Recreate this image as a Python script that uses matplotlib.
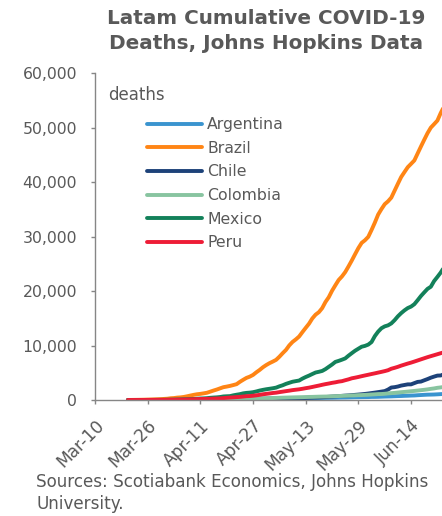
import pandas as pd
import matplotlib
matplotlib.use("Agg")
import matplotlib.pyplot as plt
import matplotlib.ticker as mticker

plt.rcParams["font.family"] = ["DejaVu Sans"]

# cumulative deaths, daily from 2020-03-20 (Johns Hopkins)
argentina = [3, 4, 4, 4, 6, 8, 9, 13, 18, 19, 23, 27,
             28, 36, 39, 43, 44, 48, 56, 63, 72, 82, 83, 90, 97, 102, 109,
             111, 115, 123, 129, 132, 136, 147, 152, 165, 176, 185, 192, 197, 207, 214,
             218, 225, 237, 246, 260, 264, 273, 282, 293, 300, 305, 315, 319, 329, 353,
             356, 363, 373, 382, 393, 403, 416, 433, 445, 452, 467, 484, 500, 508, 520, 528,
             537, 564, 569, 583, 608, 632, 648, 664, 693, 717, 735, 765, 785, 815,
             833, 878, 913, 948, 979, 992, 1011, 1043, 1078, 1116]
brazil = [11, 15, 25, 34, 46, 59, 77, 92, 111, 136, 159, 201,
          240, 324, 359, 445, 486, 564, 686, 819, 950, 1057, 1124, 1223, 1328, 1532, 1736,
          1924, 2141, 2354, 2462, 2587, 2741, 2906, 3331, 3704, 4057, 4286, 4603, 5083, 5513, 6006,
          6412, 6761, 7051, 7367, 7938, 8588, 9190, 10017, 10656, 11123, 11653, 12461, 13240, 13999,
          14962, 15662, 16118, 16853, 17983, 18859, 20047, 21048, 22013, 22666, 23473, 24512, 25598,
          26754, 27878, 28834, 29314,
          29937, 31199, 32548, 34021, 35026, 35930, 36455, 37134, 38406, 39680, 40919, 41828,
          42720, 43332, 43959, 45241, 46510, 47748, 48954, 49976, 50617, 51271, 52645, 53830]
chile = [0, 0, 1, 1, 2, 2, 3, 4, 5, 6, 8, 12,
         16, 18, 22, 27, 34, 37, 43, 48, 57, 65, 73, 82, 92, 94, 105,
         116, 126, 133, 139, 147, 160, 168, 174, 181, 189, 198, 207, 216, 227, 234,
         247, 260, 270, 275, 281, 285, 294, 304, 312, 323, 335, 346, 368, 394, 421,
         450, 478, 509, 544, 589, 630, 673, 718, 761, 806, 841, 890, 944, 997, 1054, 1113,
         1188, 1275, 1356, 1448, 1541, 1637, 1913, 2290, 2355, 2475, 2648, 2757, 2870, 2870,
         3101, 3323, 3383, 3615, 3841, 4093, 4295, 4479, 4502, 4731]
colombia = [0, 0, 0, 0, 3, 4, 6, 6, 10, 12, 14, 16,
            17, 25, 32, 35, 46, 50, 54, 69, 80, 100, 109, 112, 127, 131, 144,
            153, 166, 179, 189, 196, 206, 215, 225, 233, 244, 253, 269, 278, 293, 313,
            324, 340, 358, 378, 407, 428, 445, 463, 479, 493, 510, 524, 546, 562, 574,
            592, 613, 628, 639, 652, 679, 705, 727, 750, 776, 803, 833, 859, 890, 906, 939,
            967, 1009, 1045, 1087, 1099, 1142, 1208, 1262, 1306, 1372, 1433, 1484, 1544, 1608,
            1667, 1734, 1801, 1872, 1950, 2045, 2126, 2237, 2310, 2401]
mexico = [2, 2, 2, 4, 5, 6, 8, 12, 16, 20, 28, 29,
          37, 50, 60, 79, 94, 125, 141, 174, 194, 233, 273, 296, 332, 406, 449,
          486, 546, 650, 686, 712, 857, 970, 1069, 1221, 1305, 1351, 1434, 1569, 1732, 1859,
          1972, 2061, 2154, 2271, 2507, 2704, 2961, 3160, 3353, 3465, 3573, 3926, 4220, 4477,
          4767, 5045, 5177, 5332, 5666, 6090, 6510, 6989, 7179, 7394, 7633, 8134, 8597, 9044,
          9415, 9779, 9930,
          10167, 10637, 11729, 12545, 13170, 13511, 13699, 14053, 14649, 15357, 15944, 16448,
          16872, 17141, 17580, 18310, 19080, 19747, 20394, 20781, 21825, 22584, 23377, 24324]
peru = [5, 5, 7, 9, 9, 11, 16, 18, 24, 24, 30, 30,
        38, 55, 61, 73, 83, 92, 107, 121, 138, 169, 181, 193, 216, 230, 254,
        274, 300, 348, 400, 445, 484, 530, 572, 634, 700, 728, 782, 854, 943, 1051,
        1124, 1200, 1286, 1344, 1444, 1533, 1627, 1714, 1814, 1889, 1961, 2057, 2169, 2267,
        2392, 2523, 2648, 2789, 2914, 3024, 3148, 3244, 3373, 3456, 3629, 3788, 3983, 4099,
        4230, 4371, 4506,
        4634, 4767, 4894, 5031, 5162, 5301, 5465, 5738, 5903, 6088, 6308, 6498, 6688, 6860,
        7056, 7257, 7461, 7660, 7861, 8045, 8223, 8404, 8586, 8761]

countries = ["Argentina", "Brazil", "Chile", "Colombia", "Mexico", "Peru"]
series = [argentina, brazil, chile, colombia, mexico, peru]
colors = ["#3a94cf", "#ff8515", "#1d4279", "#88c4a0", "#13815a", "#ee1c36"]

dates = pd.date_range("2020-03-20", periods=len(brazil), freq="D")
tick_dates = pd.date_range("2020-03-10", "2020-06-20", freq="16D")

grey = "#595959"

fig = plt.figure(figsize=(4.42, 5.16), dpi=100)
ax = fig.add_axes([0.215, 0.2248, 0.785, 0.6337])

for name, vals, col in zip(countries, series, colors):
    ax.plot(dates, vals, color=col, lw=2.8, label=name, solid_capstyle="round")

ax.set_xlim(pd.Timestamp("2020-03-10"), pd.Timestamp("2020-03-10") + pd.Timedelta(days=105.4))
ax.set_ylim(0, 60000)
ax.set_yticks(range(0, 60001, 10000))
ax.yaxis.set_major_formatter(mticker.FuncFormatter(lambda v, p: f"{int(v):,}"))
ax.set_xticks(tick_dates)
ax.set_xticklabels([d.strftime("%b-%d") for d in tick_dates], rotation=45,
                   ha="right", rotation_mode="anchor")

for side in ["top", "right"]:
    ax.spines[side].set_visible(False)
for side in ["left", "bottom"]:
    ax.spines[side].set_color("#868686")
    ax.spines[side].set_linewidth(1.0)
ax.tick_params(axis="y", colors="#868686", labelcolor=grey, labelsize=11.3,
               length=3, width=1.0, pad=10)
ax.tick_params(axis="x", colors="#868686", labelcolor=grey, labelsize=12.3,
               length=3, width=1.0, pad=9)

ax.text(0.0375, 0.917, "deaths", transform=ax.transAxes, fontsize=12,
        color=grey, va="baseline", ha="left")
leg = ax.legend(loc="upper left", bbox_to_anchor=(0.15, 0.865), frameon=False,
                fontsize=11.3, handlelength=3.5, handletextpad=0.32,
                labelspacing=0.55, borderpad=0, borderaxespad=0)
for t in leg.get_texts():
    t.set_color(grey)

fig.text(0.602, 0.9835, "Latam Cumulative COVID-19\nDeaths, Johns Hopkins Data",
         ha="center", va="top", fontsize=14.4, fontweight="bold", color=grey,
         linespacing=1.41)
fig.text(0.082, 0.084, "Sources: Scotiabank Economics, Johns Hopkins\nUniversity.",
         ha="left", va="top", fontsize=12.1, color=grey, linespacing=1.3)

fig.savefig("out.png", dpi=100)
